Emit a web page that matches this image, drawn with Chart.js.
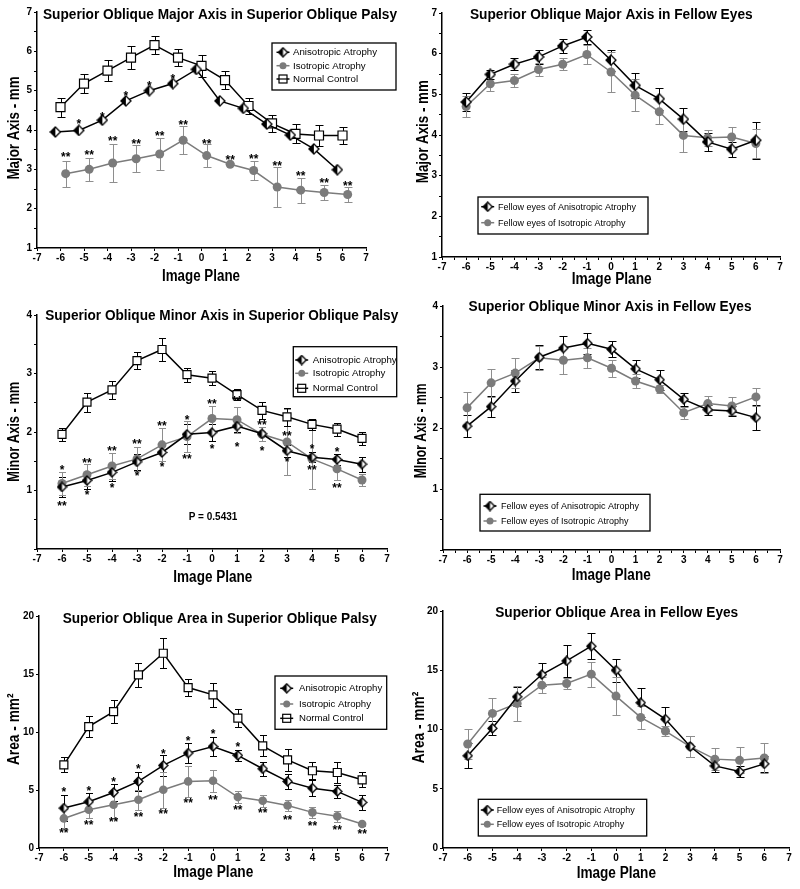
<!DOCTYPE html>
<html><head><meta charset="utf-8">
<script src="https://cdn.jsdelivr.net/npm/chart.js@4.4.1/dist/chart.umd.min.js"></script>
<style>
html,body{margin:0;padding:0;background:#fff;}
#wrap{position:relative;width:800px;height:889px;overflow:hidden;}
canvas{position:absolute;}
</style></head><body><div id="wrap">
<canvas id="cA"></canvas><canvas id="cB"></canvas><canvas id="cC"></canvas>
<canvas id="cD"></canvas><canvas id="cE"></canvas><canvas id="cF"></canvas>
</div>
<script>
// ================= DATA =================
const planes = [-6,-5,-4,-3,-2,-1,0,1,2,3,4,5,6];

// A: Superior Oblique Major Axis in Superior Oblique Palsy
const majorPalsyAniso      = [3.95,3.99,4.25,4.74,5.00,5.18,5.54,4.74,4.55,4.15,3.87,3.52,2.99];
const majorPalsyIso        = [2.89,3.00,3.16,3.27,3.39,3.74,3.35,3.13,2.97,2.55,2.47,2.41,2.36];
const majorPalsyIsoErr     = [0.33,0.29,0.49,0.35,0.41,0.36,0.30,0.03,0.23,0.50,0.32,0.20,0.19];
const majorPalsyNormal     = [4.58,5.18,5.51,5.84,6.16,5.84,5.63,5.27,4.61,4.17,3.90,3.86,3.86];
const majorPalsyNormalErr  = [0.24,0.24,0.27,0.30,0.24,0.21,0.27,0.22,0.21,0.22,0.24,0.27,0.21];
const majorPalsyAnisoStars   = ['','*','*','*','*','*','','','','','','',''];
const majorPalsyAnisoStarsAt = [null,4.21,4.40,4.93,5.18,5.37,null,null,null,null,null,null,null];
const majorPalsyIsoStars     = ['**','**','**','**','**','**','**','**','**','**','**','**','**'];
const majorPalsyIsoStarsAt   = [3.37,3.43,3.79,3.72,3.92,4.19,3.70,3.31,3.32,3.16,2.89,2.71,2.63];

// B: Superior Oblique Major Axis in Fellow Eyes
const majorFellowAniso     = [4.81,5.49,5.74,5.92,6.19,6.41,5.84,5.22,4.89,4.39,3.83,3.65,3.87];
const majorFellowAnisoErr  = [0.23,0.12,0.15,0.18,0.18,0.17,0.26,0.30,0.27,0.28,0.22,0.18,0.45];
const majorFellowIso       = [4.70,5.26,5.34,5.61,5.74,5.98,5.55,4.98,4.57,3.99,3.93,3.95,3.79];
const majorFellowIsoErr    = [0.25,0.18,0.16,0.17,0.15,0.23,0.50,0.40,0.31,0.40,0.20,0.24,0.35];

// C: Superior Oblique Minor Axis in Superior Oblique Palsy
const minorPalsyAniso      = [1.06,1.17,1.31,1.49,1.65,1.96,1.99,2.10,1.97,1.68,1.57,1.53,1.45];
const minorPalsyAnisoErr   = [0.17,0.15,0.15,0.14,0.15,0.17,0.15,0.10,0.12,0.10,0.08,0.10,0.13];
const minorPalsyIso        = [1.12,1.27,1.42,1.54,1.78,1.92,2.23,2.21,1.96,1.83,1.54,1.37,1.18];
const minorPalsyIsoErr     = [0.19,0.19,0.22,0.20,0.28,0.27,0.21,0.22,0.12,0.56,0.52,0.19,0.10];
const minorPalsyNormal     = [1.96,2.51,2.72,3.22,3.41,2.98,2.92,2.64,2.37,2.26,2.13,2.05,1.89];
const minorPalsyNormalErr  = [0.11,0.16,0.16,0.14,0.19,0.12,0.12,0.10,0.14,0.15,0.10,0.11,0.11];
const minorPalsyStarsAbove   = ['*','**','**','**','**','*','**','**','**','**','*','*',''];
const minorPalsyStarsAboveAt = [1.40,1.52,1.72,1.84,2.15,2.25,2.52,2.57,2.16,1.98,1.75,1.70,null];
const minorPalsyStarsBelow   = ['**','*','*','*','*','**','*','*','*','*','**','**',''];
const minorPalsyStarsBelowAt = [0.77,0.97,1.09,1.29,1.44,1.58,1.76,1.78,1.72,1.53,1.39,1.09,null];
const minorPalsyPText = 'P = 0.5431';

// D: Superior Oblique Minor Axis in Fellow Eyes
const minorFellowAniso     = [2.03,2.35,2.77,3.16,3.31,3.39,3.29,2.97,2.79,2.47,2.30,2.28,2.17];
const minorFellowAnisoErr  = [0.18,0.17,0.18,0.20,0.20,0.17,0.13,0.15,0.16,0.11,0.08,0.08,0.20];
const minorFellowIso       = [2.33,2.74,2.90,3.15,3.11,3.15,2.98,2.77,2.64,2.25,2.40,2.36,2.51];
const minorFellowIsoErr    = [0.26,0.23,0.25,0.20,0.22,0.16,0.14,0.11,0.07,0.10,0.12,0.15,0.15];

// E: Superior Oblique Area in Superior Oblique Palsy
const areaPalsyAniso       = [3.44,3.99,4.79,5.74,7.12,8.18,8.75,7.98,6.83,5.74,5.16,4.88,3.93];
const areaPalsyAnisoErr    = [1.10,0.72,0.76,0.80,0.93,0.83,0.86,0.50,0.62,0.65,0.72,0.57,0.64];
const areaPalsyIso         = [2.55,3.30,3.73,4.16,5.02,5.74,5.80,4.39,4.07,3.67,3.07,2.73,2.07];
const areaPalsyIsoErr      = [0.80,0.72,1.15,0.86,1.55,1.35,0.96,0.50,0.50,0.50,0.47,0.47,0.15];
const areaPalsyNormal      = [7.17,10.47,11.76,14.92,16.79,13.83,13.20,11.19,8.81,7.60,6.66,6.51,5.88];
const areaPalsyNormalErr   = [0.65,0.90,1.00,1.06,1.30,0.75,1.05,0.80,0.90,0.95,0.72,0.88,0.66];
const areaPalsyAnisoStars    = ['*','*','*','*','*','*','*','*','','','','',''];
const areaPalsyAnisoStarsAt  = [5.02,5.11,5.88,7.03,8.32,9.41,10.04,8.90,null,null,null,null,null];
const areaPalsyIsoStars      = ['**','**','**','**','**','**','**','**','**','**','**','**','**'];
const areaPalsyIsoStarsAt    = [1.52,2.24,2.44,2.87,3.16,4.10,4.39,3.53,3.24,2.64,2.07,1.81,1.43];

// F: Superior Oblique Area in Fellow Eyes
const areaFellowAniso      = [7.78,10.10,12.76,14.64,15.79,17.03,15.00,12.26,10.88,8.56,6.93,6.45,7.10];
const areaFellowAnisoErr   = [1.05,0.60,0.80,0.95,1.35,1.10,0.95,1.20,1.00,0.90,0.50,0.45,0.65];
const areaFellowIso        = [8.78,11.36,12.20,13.74,13.88,14.67,12.82,11.02,9.87,8.56,7.50,7.40,7.60];
const areaFellowIsoErr     = [1.30,1.30,1.50,0.70,0.50,1.05,1.60,1.00,0.45,0.90,0.90,1.10,1.25];

// ================= DRAWING =================
const FONT = "'Liberation Sans', Arial, Helvetica, sans-serif";
Chart.defaults.font.family = FONT;
const GRAY = '#7b7b7b', GRAY_ERR = '#8e8e8e';

function halfDiamond(size){
  const s = size + 2, c = document.createElement('canvas');
  c.width = s; c.height = s;
  const g = c.getContext('2d'), m = s/2, r = size/2;
  g.beginPath(); g.moveTo(m, m-r); g.lineTo(m+r, m); g.lineTo(m, m+r); g.lineTo(m-r, m); g.closePath();
  g.fillStyle = '#fff'; g.fill();
  g.save(); g.clip(); g.fillStyle = '#000'; g.fillRect(0, 0, m, s); g.restore();
  g.lineWidth = 1.3; g.strokeStyle = '#000'; g.stroke();
  return c;
}

function drawMarker(ctx, kind, x, y, st){
  ctx.save();
  if (kind === 'aniso') {
    const img = halfDiamond(st.legendD);
    ctx.drawImage(img, x - img.width/2, y - img.height/2);
  } else if (kind === 'iso') {
    ctx.fillStyle = GRAY; ctx.beginPath(); ctx.arc(x, y, st.legendC, 0, Math.PI*2); ctx.fill();
  } else {
    const h = st.legendS/2;
    ctx.fillStyle = '#fff'; ctx.strokeStyle = '#000'; ctx.lineWidth = 1.2;
    ctx.fillRect(x-h, y-h, 2*h, 2*h); ctx.strokeRect(x-h, y-h, 2*h, 2*h);
    ctx.beginPath(); ctx.moveTo(x-h, y); ctx.lineTo(x+h, y); ctx.stroke();
  }
  ctx.restore();
}

function fitText(ctx, text, cx, cy, font, targetW, rot){
  ctx.save();
  ctx.font = font;
  const w = ctx.measureText(text).width;
  const sx = targetW ? targetW / w : 1;
  ctx.translate(cx, cy);
  if (rot) ctx.rotate(rot);
  ctx.scale(sx, 1);
  ctx.textAlign = 'center'; ctx.textBaseline = 'middle'; ctx.fillStyle = '#000';
  ctx.fillText(text, 0, 0);
  ctx.restore();
}

const errorBarPlugin = {
  id: 'errbars',
  beforeDatasetsDraw(chart){
    const ctx = chart.ctx, ys = chart.scales.y;
    chart.data.datasets.forEach((ds, di) => {
      if (!ds.errors) return;
      const meta = chart.getDatasetMeta(di);
      ctx.save(); ctx.strokeStyle = ds.errColor; ctx.lineWidth = 1;
      meta.data.forEach((pt, i) => {
        const e = ds.errors[i]; if (!e) return;
        const v = ds.data[i].y;
        const top = Math.round(ys.getPixelForValue(v + e)) + 0.5;
        const bot = Math.round(ys.getPixelForValue(v - e)) + 0.5;
        const x = Math.round(pt.x) + 0.5, cw = ds.capW / 2;
        ctx.beginPath();
        ctx.moveTo(x, top); ctx.lineTo(x, bot);
        ctx.moveTo(x - cw, top); ctx.lineTo(x + cw, top);
        ctx.moveTo(x - cw, bot); ctx.lineTo(x + cw, bot);
        ctx.stroke();
      });
      ctx.restore();
    });
  }
};

function buildPanel(id, L, P){
  const cv = document.getElementById(id);
  cv.width = L.w; cv.height = L.h;
  cv.style.left = L.left + 'px'; cv.style.top = L.top + 'px';
  const A = L.area;
  const datasets = P.series.map(s => {
    const kind = s.kind;
    const color = kind === 'iso' ? GRAY : '#000';
    let pointStyle, radius;
    if (kind === 'aniso') { pointStyle = halfDiamond(L.mk.d); radius = L.mk.d/2; }
    else if (kind === 'iso') { pointStyle = 'circle'; radius = L.mk.c; }
    else { pointStyle = 'rect'; radius = L.mk.s / (2*Math.SQRT1_2); }
    return {
      label: s.label,
      data: s.values.map((v, i) => ({x: planes[i] + (s.shift || 0), y: v})),
      borderColor: color, borderWidth: 1.5,
      backgroundColor: kind === 'normal' ? '#fff' : color,
      pointBackgroundColor: kind === 'normal' ? '#fff' : color,
      pointBorderColor: color,
      pointBorderWidth: kind === 'normal' ? 1.2 : 0,
      pointStyle, pointRadius: radius, pointHoverRadius: radius,
      tension: 0, fill: false,
      errors: s.errors, errColor: kind === 'iso' ? GRAY_ERR : '#000', capW: L.capW,
      shift: s.shift || 0
    };
  });

  const tickFont = {family: FONT, size: 10, weight: 'bold'};
  const axisCommon = {
    grid: {display: true, drawOnChartArea: false, drawTicks: true, tickLength: 3, color: '#000', lineWidth: 1},
    border: {display: true, color: '#000', width: 1.5}
  };

  const decor = {
    id: 'decor',
    afterDraw(chart){
      const ctx = chart.ctx, xs = chart.scales.x, ys = chart.scales.y;
      // titles
      fitText(ctx, P.title, L.title.x, L.title.y, `bold 14px ${FONT}`, L.title.w);
      fitText(ctx, P.xTitle, L.xTitle.x, L.xTitle.y, `bold 16px ${FONT}`, L.xTitle.w);
      fitText(ctx, P.yTitle, L.yTitle.x, L.yTitle.y, `bold 16px ${FONT}`, L.yTitle.w, -Math.PI/2);
      // stars
      (P.stars || []).forEach(st => {
        ctx.save();
        ctx.font = `bold 12px ${FONT}`; ctx.fillStyle = '#000';
        ctx.textAlign = 'center'; ctx.textBaseline = 'alphabetic';
        st.texts.forEach((t, i) => {
          if (!t || st.at[i] == null) return;
          const m = ctx.measureText(t);
          const cy = ys.getPixelForValue(st.at[i]);
          const base = cy - (m.actualBoundingBoxDescent - m.actualBoundingBoxAscent)/2;
          ctx.fillText(t, xs.getPixelForValue(planes[i] + (st.shift || 0)), base);
        });
        ctx.restore();
      });
      // extra text
      if (P.note) fitText(ctx, P.note, L.note.x, L.note.y, `bold 10px ${FONT}`, 0);
      // legend
      const G = L.legend;
      ctx.save();
      ctx.strokeStyle = '#000'; ctx.lineWidth = 1.3;
      ctx.fillStyle = '#fff';
      ctx.fillRect(G.x0, G.y0, G.x1 - G.x0, G.y1 - G.y0);
      ctx.strokeRect(G.x0, G.y0, G.x1 - G.x0, G.y1 - G.y0);
      P.series.forEach((s, i) => {
        const y = G.rows[i];
        const col = s.kind === 'iso' ? GRAY : '#000';
        ctx.strokeStyle = col; ctx.lineWidth = 1.5;
        ctx.beginPath(); ctx.moveTo(G.mx - 6.5, y); ctx.lineTo(G.mx + 6.5, y); ctx.stroke();
        drawMarker(ctx, s.kind, G.mx, y, L.mk);
        ctx.fillStyle = '#000'; ctx.font = `${G.font}px ${FONT}`;
        ctx.textAlign = 'left'; ctx.textBaseline = 'middle';
        ctx.fillText(s.label, G.tx, y + 0.5);
      });
      ctx.restore();
    }
  };

  return new Chart(cv, {
    type: 'line',
    data: {datasets},
    options: {
      responsive: false, animation: false, devicePixelRatio: 1,
      layout: {padding: {left: 0, top: A.t, right: L.w - A.r, bottom: 0}},
      plugins: {legend: {display: false}, tooltip: {enabled: false}, title: {display: false}},
      scales: {
        x: Object.assign({}, axisCommon, {
          type: 'linear', min: -7, max: 7,
          afterFit(s){ s.height = L.h - A.b; },
          ticks: {stepSize: P.xStep, autoSkip: false, maxRotation: 0, padding: 1, color: '#000', font: tickFont,
                  callback: v => Number.isInteger(v) ? String(v) : ''}
        }),
        y: Object.assign({}, axisCommon, {
          type: 'linear', min: P.yMin, max: P.yMax,
          afterFit(s){ s.width = A.l; },
          ticks: {stepSize: P.yStep, autoSkip: false, padding: 2, color: '#000', font: tickFont,
                  callback: v => (Number.isInteger(v) && P.yLabels.includes(v)) ? String(v) : ''}
        })
      }
    },
    plugins: [errorBarPlugin, decor]
  });
}

// ================= PANELS =================
const palsyLabels = ['Anisotropic Atrophy', 'Isotropic Atrophy', 'Normal Control'];
const fellowLabelA = 'Fellow eyes of Anisotropic Atrophy';
const fellowLabelI = 'Fellow eyes of Isotropic Atrophy';

buildPanel('cA',
  {left:0, top:0, w:400, h:296, area:{l:37,t:12,r:366,b:248}, capW:8,
   mk:{d:10, c:4.5, s:9, legendD:9, legendC:3.5, legendS:8},
   title:{x:220,y:15,w:354}, xTitle:{x:201,y:277,w:78}, yTitle:{x:15,y:128,w:103},
   legend:{x0:272,y0:43,x1:396,y1:90, rows:[52.3,65.7,79], mx:283, tx:293, font:9.7}},
  {title:'Superior Oblique Major Axis in Superior Oblique Palsy', xTitle:'Image Plane', yTitle:'Major Axis - mm',
   yMin:1, yMax:7, yStep:0.5, yLabels:[1,2,3,4,5,6,7], xStep:1,
   series:[
     {label:palsyLabels[0], kind:'aniso', values:majorPalsyAniso, errors:null, shift:-0.22},
     {label:palsyLabels[1], kind:'iso', values:majorPalsyIso, errors:majorPalsyIsoErr, shift:0.22},
     {label:palsyLabels[2], kind:'normal', values:majorPalsyNormal, errors:majorPalsyNormalErr}
   ],
   stars:[{texts:majorPalsyAnisoStars, at:majorPalsyAnisoStarsAt, shift:-0.22},
          {texts:majorPalsyIsoStars, at:majorPalsyIsoStarsAt, shift:0.22}]});

buildPanel('cB',
  {left:400, top:0, w:400, h:296, area:{l:42,t:13,r:380,b:257}, capW:8,
   mk:{d:10, c:4.5, s:9, legendD:9, legendC:3.5, legendS:8},
   title:{x:211.3,y:15,w:282.7}, xTitle:{x:211.7,y:279.3,w:80}, yTitle:{x:23.3,y:131.7,w:103},
   legend:{x0:78,y0:197,x1:248,y1:234, rows:[206.7,222.7], mx:87.7, tx:98, font:9}},
  {title:'Superior Oblique Major Axis in Fellow Eyes', xTitle:'Image Plane', yTitle:'Major Axis - mm',
   yMin:1, yMax:7, yStep:0.5, yLabels:[1,2,3,4,5,6,7], xStep:0.5,
   series:[
     {label:fellowLabelA, kind:'aniso', values:majorFellowAniso, errors:majorFellowAnisoErr},
     {label:fellowLabelI, kind:'iso', values:majorFellowIso, errors:majorFellowIsoErr}
   ]});

buildPanel('cC',
  {left:0, top:296, w:400, h:296, area:{l:37,t:19,r:387,b:253}, capW:7,
   mk:{d:9, c:4.5, s:8, legendD:9, legendC:3.5, legendS:8},
   title:{x:221.7,y:20,w:353}, xTitle:{x:212.8,y:281.3,w:79}, yTitle:{x:15,y:135.7,w:100},
   legend:{x0:293.3,y0:50.7,x1:396.7,y1:100.7, rows:[64,77.3,92.3], mx:301.7, tx:312.7, font:9.7},
   note:{x:213,y:221}},
  {title:'Superior Oblique Minor Axis in Superior Oblique Palsy', xTitle:'Image Plane', yTitle:'Minor Axis - mm',
   yMin:0, yMax:4, yStep:0.5, yLabels:[1,2,3,4], xStep:1, note:minorPalsyPText,
   series:[
     {label:palsyLabels[0], kind:'aniso', values:minorPalsyAniso, errors:minorPalsyAnisoErr},
     {label:palsyLabels[1], kind:'iso', values:minorPalsyIso, errors:minorPalsyIsoErr},
     {label:palsyLabels[2], kind:'normal', values:minorPalsyNormal, errors:minorPalsyNormalErr}
   ],
   stars:[{texts:minorPalsyStarsAbove, at:minorPalsyStarsAboveAt},
          {texts:minorPalsyStarsBelow, at:minorPalsyStarsBelowAt}]});

buildPanel('cD',
  {left:400, top:296, w:400, h:296, area:{l:43,t:10,r:380,b:254}, capW:8,
   mk:{d:9, c:4.5, s:8, legendD:9, legendC:3.5, legendS:8},
   title:{x:210,y:11.3,w:283}, xTitle:{x:211.2,y:280,w:79}, yTitle:{x:21.7,y:134.8,w:95},
   legend:{x0:80,y0:198.3,x1:250,y1:235, rows:[210,225], mx:90, tx:101, font:9}},
  {title:'Superior Oblique Minor Axis in Fellow Eyes', xTitle:'Image Plane', yTitle:'MInor Axis - mm',
   yMin:0, yMax:4, yStep:0.5, yLabels:[1,2,3,4], xStep:0.5,
   series:[
     {label:fellowLabelA, kind:'aniso', values:minorFellowAniso, errors:minorFellowAnisoErr},
     {label:fellowLabelI, kind:'iso', values:minorFellowIso, errors:minorFellowIsoErr}
   ]});

buildPanel('cE',
  {left:0, top:592, w:400, h:297, area:{l:39,t:24,r:387,b:256}, capW:7,
   mk:{d:9, c:4.3, s:8, legendD:9, legendC:3.5, legendS:8},
   title:{x:219.7,y:27.3,w:314}, xTitle:{x:213.3,y:280.7,w:80}, yTitle:{x:15,y:137.2,w:71.7},
   legend:{x0:275,y0:84,x1:386.7,y1:137.3, rows:[96.3,112,126.3], mx:286.7, tx:299, font:9.6}},
  {title:'Superior Oblique Area in Superior Oblique Palsy', xTitle:'Image Plane', yTitle:'Area - mm\u00B2',
   yMin:0, yMax:20, yStep:5, yLabels:[0,5,10,15,20], xStep:1,
   series:[
     {label:palsyLabels[0], kind:'aniso', values:areaPalsyAniso, errors:areaPalsyAnisoErr},
     {label:palsyLabels[1], kind:'iso', values:areaPalsyIso, errors:areaPalsyIsoErr},
     {label:palsyLabels[2], kind:'normal', values:areaPalsyNormal, errors:areaPalsyNormalErr}
   ],
   stars:[{texts:areaPalsyAnisoStars, at:areaPalsyAnisoStarsAt},
          {texts:areaPalsyIsoStars, at:areaPalsyIsoStarsAt}]});

buildPanel('cF',
  {left:400, top:592, w:400, h:297, area:{l:43,t:19,r:389,b:256}, capW:8,
   mk:{d:9, c:4.5, s:8, legendD:9, legendC:3.5, legendS:8},
   title:{x:216.7,y:20.7,w:243}, xTitle:{x:216.3,y:281.3,w:79.3}, yTitle:{x:20,y:135.5,w:71.6},
   legend:{x0:78.3,y0:207.3,x1:246.7,y1:244, rows:[218,232.3], mx:87.3, tx:96.7, font:9}},
  {title:'Superior Oblique Area in Fellow Eyes', xTitle:'Image Plane', yTitle:'Area - mm\u00B2',
   yMin:0, yMax:20, yStep:5, yLabels:[0,5,10,15,20], xStep:1,
   series:[
     {label:fellowLabelA, kind:'aniso', values:areaFellowAniso, errors:areaFellowAnisoErr},
     {label:fellowLabelI, kind:'iso', values:areaFellowIso, errors:areaFellowIsoErr}
   ]});
</script>
</body></html>
